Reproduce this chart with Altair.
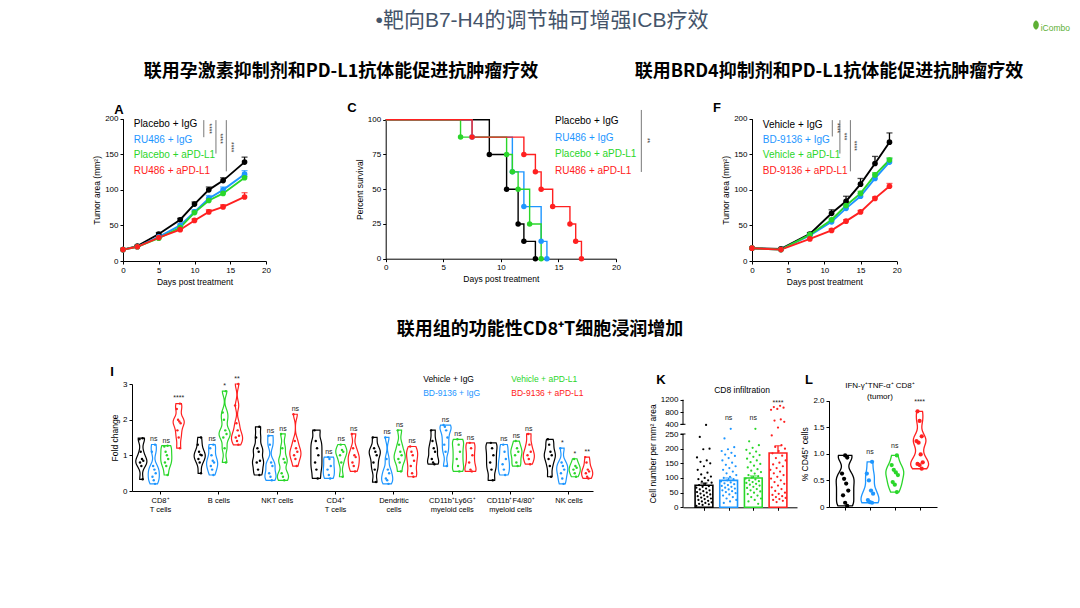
import json
import altair as alt
import pandas as pd

W, H = 1064, 592
FONT = "Liberation Sans"
CJK = "Noto Sans CJK SC"
MIX = "Liberation Sans, Noto Sans CJK SC"
COLORS = ["#000000", "#1E96FF", "#2AD62A", "#FF2020"]

# ---------------- text ----------------
MAIN_TITLE = "•靶向B7-H4的调节轴可增强ICB疗效"
SUB1 = "联用孕激素抑制剂和PD-L1抗体能促进抗肿瘤疗效"
SUB2 = "联用BRD4抑制剂和PD-L1抗体能促进抗肿瘤疗效"
SUB3 = "联用组的功能性CD8⁺T细胞浸润增加"

# ---------------- panel A ----------------
A_GROUPS = ["Placebo + IgG", "RU486 + IgG", "Placebo + aPD-L1", "RU486 + aPD-L1"]
A_DAYS = [0, 2, 5, 8, 10, 12, 14, 17]
A_BLACK = [16, 21, 38, 58, 80, 100, 113, 139]
A_BLUE = [16, 20, 34, 50, 69, 88, 100, 122]
A_GREEN = [16, 20, 32, 47, 68, 85, 95, 117]
A_RED = [16, 20, 33, 44, 57, 69, 76, 90]
A_ERR_BLACK = [1, 1, 2, 2, 3, 4, 4, 7]
A_ERR_BLUE = [1, 1, 2, 2, 3, 4, 4, 5]
A_ERR_GREEN = [1, 1, 1, 2, 2, 2, 2, 2]
A_ERR_RED = [1, 1, 1, 2, 2, 3, 3, 6]
A_LEG_Y = [192, 170, 149, 127]
A_BR_X = [11.3, 13.0, 14.45]
A_BR_LOW = [174, 151, 126]
A_STAR_X = [12.0, 13.6, 15.1]
A_STAR_Y = [186, 172, 160]
A_STARS = ["****", "****", "****"]

# ---------------- panel C ----------------
C_T_BLACK = [0, 9, 10.5, 11.5, 12, 13]
C_S_BLACK = [100, 75, 50, 25, 12.5, 0]
C_T_BLUE = [0, 7.5, 11, 12, 13.5, 14]
C_S_BLUE = [100, 87.5, 62.5, 37.5, 12.5, 0]
C_T_GREEN = [0, 6.5, 10.5, 11, 11.5, 12.5, 13.5]
C_S_GREEN = [100, 87.5, 75, 62.5, 50, 25, 0]
C_T_RED = [0, 7.5, 12, 13, 13.5, 14.5, 16, 16.5, 17]
C_S_RED = [100, 87.5, 75, 62.5, 50, 37.5, 25, 12.5, 0]
C_LEG_Y = [99, 87, 75, 63]

# ---------------- panel F ----------------
F_GROUPS = ["Vehicle + IgG", "BD-9136 + IgG", "Vehicle + aPD-L1", "BD-9136 + aPD-L1"]
F_DAYS = [0, 4, 8, 11, 13, 15, 17, 19]
F_BLACK = [18, 17, 38, 67, 84, 108, 137, 167]
F_BLUE = [18, 16, 36, 55, 74, 91, 116, 139]
F_GREEN = [18, 16, 37, 58, 78, 95, 121, 142]
F_RED = [18, 16, 31, 43, 56, 69, 88, 105]
F_ERR_BLACK = [1, 1, 2, 5, 7, 8, 10, 13]
F_ERR_BLUE = [1, 1, 2, 3, 3, 4, 5, 5]
F_ERR_GREEN = [1, 1, 2, 2, 3, 3, 3, 3]
F_ERR_RED = [1, 1, 1, 2, 2, 2, 2, 4]
F_LEG_Y = [191, 170, 149, 127]
F_BR_X = [11.1, 12.15, 13.6]
F_BR_LOW = [175, 151, 126]
F_STAR_X = [11.7, 12.7, 14.1]
F_STAR_Y = [187, 175, 162]
F_STARS = ["****", "***", "****"]

# ---------------- panel I ----------------
I_LABELS = [["CD8⁺", "T cells"], ["B cells"], ["NKT cells"], ["CD4⁺", "T cells"],
            ["Dendritic", "cells"], ["CD11b⁺Ly6G⁺", "myeloid cells"],
            ["CD11b⁺F4/80⁺", "myeloid cells"], ["NK cells"]]
I_BLACK = [[0.33, 0.7, 0.8, 0.85, 0.9, 1.1, 1.45, 1.48],
           [0.5, 0.8, 0.9, 1.0, 1.02, 1.1, 1.3, 1.5],
           [0.45, 0.6, 0.8, 0.85, 1.1, 1.2, 1.5, 1.8],
           [0.35, 0.6, 0.8, 1.0, 1.2, 1.4, 1.7],
           [0.25, 0.6, 0.8, 1.0, 1.1, 1.2, 1.5],
           [0.75, 0.8, 0.9, 1.1, 1.2, 1.4, 1.7],
           [0.3, 0.6, 0.8, 1.0, 1.2, 1.35],
           [0.4, 0.7, 0.9, 1.0, 1.1, 1.3, 1.45]]
I_BLUE = [[0.2, 0.3, 0.4, 0.5, 0.6, 0.7, 1.1, 1.3],
          [0.45, 0.6, 0.7, 0.8, 0.85, 1.0, 1.2, 1.3],
          [0.3, 0.4, 0.5, 0.7, 0.8, 1.3, 1.55],
          [0.35, 0.45, 0.6, 0.7, 0.9, 0.95],
          [0.2, 0.3, 0.35, 0.5, 0.6, 0.9, 1.5],
          [0.7, 1.1, 1.3, 1.5, 1.7, 1.8, 1.85],
          [0.45, 0.6, 0.75, 0.9, 1.1, 1.3],
          [0.2, 0.35, 0.5, 0.6, 0.7, 0.8, 1.2]]
I_GREEN = [[0.45, 0.7, 0.8, 0.9, 1.0, 1.1, 1.25, 1.27],
           [0.8, 1.2, 1.5, 1.6, 1.7, 2.0, 2.2, 2.8],
           [0.3, 0.4, 0.5, 0.8, 0.9, 1.2, 1.6],
           [0.4, 0.8, 1.0, 1.1, 1.15, 1.3],
           [0.55, 0.8, 0.9, 1.0, 1.1, 1.3, 1.7],
           [0.55, 0.7, 0.9, 1.1, 1.3, 1.45],
           [0.7, 0.8, 1.0, 1.1, 1.2, 1.4],
           [0.4, 0.5, 0.6, 0.65, 0.7, 0.9]]
I_RED = [[1.2, 1.5, 1.7, 1.9, 1.95, 2.0, 2.3, 2.45],
         [1.3, 1.4, 1.5, 1.55, 1.7, 1.9, 2.4, 3.0],
         [0.7, 0.9, 1.0, 1.1, 1.2, 1.4, 2.15],
         [0.55, 0.7, 0.8, 0.95, 1.0, 1.2, 1.6],
         [0.4, 0.5, 0.7, 0.85, 1.0, 1.1, 1.25],
         [0.55, 0.6, 0.8, 1.0, 1.2, 1.35],
         [0.75, 0.9, 1.0, 1.1, 1.3, 1.6],
         [0.35, 0.4, 0.5, 0.55, 0.6, 0.8, 0.95]]
I_SIG_BLUE = ["ns", "ns", "ns", "ns", "ns", "ns", "ns", "*"]
I_SIG_GREEN = ["ns", "*", "ns", "ns", "ns", "ns", "ns", "*"]
I_SIG_RED = ["****", "**", "ns", "ns", "ns", "ns", "ns", "**"]
I_OFFSETS = [-0.32, -0.107, 0.107, 0.32]
I_LEG_X = [4.51, 4.51, 6.02, 6.02]
I_LEG_Y = [3.14, 2.75, 3.14, 2.75]

# ---------------- panel K ----------------
K_MEAN = [75, 92, 100, 185]
K_SEM = [8, 8, 7, 25]
K_SIG = ["", "ns", "ns", "****"]
K_SIG_Y = [0, 600, 600, 1100]
K_BLACK = [390, 240, 200, 198, 170, 160, 155, 150, 140, 128, 118, 112, 105, 100, 96, 92, 88,
           84, 80, 76, 72, 70, 67, 64, 61, 58, 55, 52, 50, 47, 44, 41, 38, 36, 33, 30, 28, 25,
           22, 20, 17, 15, 12, 10, 8, 5]
K_BLUE = [330, 235, 205, 198, 192, 186, 180, 175, 168, 160, 152, 145, 140, 134, 128, 122, 116,
          110, 104, 100, 96, 92, 88, 85, 82, 79, 76, 73, 70, 67, 64, 61, 58, 55, 52, 48, 44, 40,
          35, 30, 25, 20, 15]
K_GREEN = [330, 225, 212, 203, 196, 190, 184, 178, 172, 166, 160, 154, 148, 142, 136, 130, 125,
           120, 115, 110, 106, 102, 98, 95, 92, 89, 86, 83, 80, 77, 74, 70, 66, 62, 58, 54, 50,
           45, 40, 35, 30, 25, 20, 12]
K_RED = [1000, 960, 940, 900, 870, 560, 520, 480, 350, 245, 212, 206, 200, 192, 184, 176, 168,
         160, 152, 146, 140, 134, 128, 122, 116, 110, 104, 98, 92, 86, 80, 74, 68, 62, 56, 50, 46,
         42, 38, 35, 32, 28, 25, 22, 18]

# ---------------- panel L ----------------
L_BLACK = [0.02, 0.08, 0.22, 0.31, 0.44, 0.53, 0.63, 0.93, 0.97]
L_BLUE = [0.08, 0.09, 0.13, 0.25, 0.31, 0.5, 0.63, 0.85]
L_GREEN = [0.28, 0.42, 0.47, 0.6, 0.65, 0.7, 0.79, 0.97]
L_RED = [0.72, 0.79, 0.81, 0.84, 0.99, 1.21, 1.24, 1.33, 1.62, 1.8]
L_SIG = ["", "ns", "ns", "****"]

K_GROUPS = F_GROUPS


# =============== helpers ===============
def lscale(domain, rng):
    return alt.Scale(domain=domain, range=rng, nice=False, zero=False)


def axis(orient, offset, values, title, **kw):
    return alt.Axis(orient=orient, offset=offset, values=values, title=title, grid=False,
                    labelFlush=False, labelOverlap=False, **kw)


def cscale(groups):
    return alt.Scale(domain=groups, range=COLORS)


def growth_panel(groups, days, means, errs, xr, yr, xoff, yoff, leg_y, br_x, br_low,
                 st_x, st_y, st_lab):
    rows = []
    for g, m, e in zip(groups, means, errs):
        for d, mm, ee in zip(days, m, e):
            rows.append(dict(grp=g, day=d, mean=mm, err=ee))
    df = pd.DataFrame(rows)
    xs = lscale([0, 20], xr)
    ys = lscale([0, 200], yr)
    xa = axis("bottom", xoff, [0, 5, 10, 15, 20], "Days post treatment")
    ya = axis("left", yoff, [0, 50, 100, 150, 200], "Tumor area (mm²)")

    def X(f):
        return alt.X(f + ":Q", scale=xs, axis=xa)

    def Y(f):
        return alt.Y(f + ":Q", scale=ys, axis=ya)

    col = alt.Color("grp:N", scale=cscale(groups), legend=None)
    base = alt.Chart(df).transform_calculate(hi="datum.mean + datum.err")
    err = base.mark_rule(strokeWidth=1.3).encode(x=X("day"), y=Y("mean"), y2=alt.Y2("hi"), color=col)
    cap = base.mark_tick(orient="horizontal", size=6, thickness=1.3).encode(
        x=X("day"), y=Y("hi"), color=col)
    line = base.mark_line(strokeWidth=1.9).encode(x=X("day"), y=Y("mean"), color=col)
    pts = base.mark_circle(size=32, opacity=1).encode(x=X("day"), y=Y("mean"), color=col)

    leg_df = pd.DataFrame(dict(grp=groups, y=leg_y, x=[1.5] * 4))
    leg = alt.Chart(leg_df).mark_text(align="left", baseline="middle", fontSize=10, font=FONT).encode(
        x=X("x"), y=Y("y"), text="grp:N", color=col)

    br_df = pd.DataFrame(dict(x=br_x, lo=br_low, hi=[198] * len(br_x)))
    br = alt.Chart(br_df).mark_rule(color="#555555", strokeWidth=0.8).encode(
        x=X("x"), y=Y("lo"), y2=alt.Y2("hi"))
    st_df = pd.DataFrame(dict(x=st_x, y=st_y, t=st_lab))
    st = alt.Chart(st_df).mark_text(angle=90, fontSize=6.5, font=FONT, color="#333333").encode(
        x=X("x"), y=Y("y"), text="t:N")
    return alt.layer(err, cap, line, pts, leg, br, st)


def violin_panel(groups, values, positions, xs, ys, xa, ya, halfw, bw, extent, psize, sw,
                 sig_rows, sig_pad, sig_size):
    rows = []
    for g, vl, p in zip(groups, values, positions):
        for v in vl:
            rows.append(dict(grp=g, pos=p, value=v))
    df = pd.DataFrame(rows)

    def X(f):
        return alt.X(f + ":Q", scale=xs, axis=xa)

    def Y(f):
        return alt.Y(f + ":Q", scale=ys, axis=ya)

    stroke = alt.Stroke("grp:N", scale=cscale(K_GROUPS), legend=None)
    col = alt.Color("grp:N", scale=cscale(K_GROUPS), legend=None)
    area = (
        alt.Chart(df)
        .transform_joinaggregate(vmin="min(value)", vmax="max(value)", groupby=["pos", "grp"])
        .transform_density("value", as_=["value", "density"], groupby=["pos", "grp", "vmin", "vmax"],
                           bandwidth=bw, extent=extent, steps=400)
        .transform_filter("datum.value >= datum.vmin - 0.004 && datum.value <= datum.vmax + 0.004")
        .transform_joinaggregate(dmax="max(density)", groupby=["pos", "grp"])
        .transform_calculate(xl=f"datum.pos - {halfw} * datum.density / datum.dmax",
                             xr=f"datum.pos + {halfw} * datum.density / datum.dmax")
        .mark_area(orient="horizontal", fill="white", strokeWidth=sw, interpolate="monotone")
        .encode(y=Y("value"), x=X("xl"), x2=alt.X2("xr"), stroke=stroke, detail="pos:Q")
    )
    pts = (
        alt.Chart(df)
        .transform_window(rn="row_number()", groupby=["pos"])
        .transform_calculate(px=f"datum.pos + ((datum.rn * 5) % 7 / 6 - 0.5) * {halfw * 0.7}")
        .mark_circle(size=psize, opacity=1)
        .encode(x=X("px"), y=Y("value"), color=col)
    )
    sig_df = pd.DataFrame(sig_rows)
    sig = alt.Chart(sig_df).transform_calculate(ty=f"datum.top + {sig_pad}").mark_text(
        baseline="bottom", fontSize=sig_size, font=FONT, color="#222222").encode(
        x=X("pos"), y=Y("ty"), text="t:N")
    return alt.layer(area, pts, sig), X, Y


def text_at(t, x, y, **kw):
    return alt.Chart(pd.DataFrame({"t": [t]})).mark_text(**kw).encode(
        text="t:N", x=alt.value(x), y=alt.value(y))


# =============== panel A ===============
panel_a = growth_panel(A_GROUPS, A_DAYS, [A_BLACK, A_BLUE, A_GREEN, A_RED],
                       [A_ERR_BLACK, A_ERR_BLUE, A_ERR_GREEN, A_ERR_RED],
                       [115, 258], [253, 110.7], 253 - H, -115, A_LEG_Y,
                       A_BR_X, A_BR_LOW, A_STAR_X, A_STAR_Y, A_STARS)

# =============== panel F ===============
panel_f = growth_panel(F_GROUPS, F_DAYS, [F_BLACK, F_BLUE, F_GREEN, F_RED],
                       [F_ERR_BLACK, F_ERR_BLUE, F_ERR_GREEN, F_ERR_RED],
                       [744, 888.7], [253, 110.7], 253 - H, -744, F_LEG_Y,
                       F_BR_X, F_BR_LOW, F_STAR_X, F_STAR_Y, F_STARS)

# =============== panel C ===============
km_rows = []
for g, ts, ss in zip(A_GROUPS, [C_T_BLACK, C_T_BLUE, C_T_GREEN, C_T_RED],
                     [C_S_BLACK, C_S_BLUE, C_S_GREEN, C_S_RED]):
    for t, s in zip(ts, ss):
        km_rows.append(dict(grp=g, t=t, s=s))
km_df = pd.DataFrame(km_rows)
c_xs = lscale([0, 20], [377.7, 608])
c_ys = lscale([0, 100], [250.7, 111.7])
c_xa = axis("bottom", 250.7 - H, [0, 5, 10, 15, 20], "Days post treatment")
c_ya = axis("left", -377.7, [0, 25, 50, 75, 100], "Percent survival")


def CX(f):
    return alt.X(f + ":Q", scale=c_xs, axis=c_xa)


def CY(f):
    return alt.Y(f + ":Q", scale=c_ys, axis=c_ya)


c_col = alt.Color("grp:N", scale=cscale(A_GROUPS), legend=None)
c_line = alt.Chart(km_df).mark_line(interpolate="step-after", strokeWidth=1.4).encode(
    x=CX("t"), y=CY("s"), color=c_col)
c_pts = alt.Chart(km_df).transform_filter("datum.t > 0").mark_circle(size=30, opacity=1).encode(
    x=CX("t"), y=CY("s"), color=c_col)
c_leg = alt.Chart(pd.DataFrame(dict(grp=A_GROUPS, y=C_LEG_Y, x=[14.7] * 4))).mark_text(
    align="left", baseline="middle", fontSize=10, font=FONT).encode(
    x=CX("x"), y=CY("y"), text="grp:N", color=c_col)
c_br = alt.Chart(pd.DataFrame(dict(x=[22.2], lo=[62.4], hi=[107]))).mark_rule(
    color="#555555", strokeWidth=0.8).encode(x=CX("x"), y=CY("lo"), y2=alt.Y2("hi"))
c_st = alt.Chart(pd.DataFrame(dict(x=[22.7], y=[85], t=["**"]))).mark_text(
    angle=90, fontSize=6.5, font=FONT, color="#333333").encode(x=CX("x"), y=CY("y"), text="t:N")
panel_c = alt.layer(c_line, c_pts, c_leg, c_br, c_st)

# =============== panel I ===============
i_xs = lscale([-0.48, 7.42], [124, 585])
i_ys = lscale([0, 3], [483, 376])
i_xa = axis("bottom", 483 - H, list(range(8)), "",
            labelExpr=json.dumps(I_LABELS, ensure_ascii=False) + "[datum.value]",
            labelFontSize=7.5, labelLineHeight=9)
i_ya = axis("left", -124, [0, 1, 2, 3], "Fold change")
i_groups, i_values, i_pos, i_sig = [], [], [], []
for ci in range(8):
    for gi, src in enumerate([I_BLACK, I_BLUE, I_GREEN, I_RED]):
        i_groups.append(K_GROUPS[gi])
        i_values.append(src[ci])
        i_pos.append(ci + I_OFFSETS[gi])
    for gi, sig in zip([1, 2, 3], [I_SIG_BLUE, I_SIG_GREEN, I_SIG_RED]):
        src = [I_BLACK, I_BLUE, I_GREEN, I_RED][gi]
        i_sig.append(dict(pos=ci + I_OFFSETS[gi], top=max(src[ci]), t=sig[ci]))
i_violins, IX, IY = violin_panel(i_groups, i_values, i_pos, i_xs, i_ys, i_xa, i_ya,
                                 0.095, 0.13, [0, 3.2], 6, 1.2, i_sig, 0.06, 7)
i_col = alt.Color("grp:N", scale=cscale(K_GROUPS), legend=None)
i_leg = alt.Chart(pd.DataFrame(dict(grp=K_GROUPS, x=I_LEG_X, y=I_LEG_Y))).mark_text(
    align="left", baseline="middle", fontSize=8.5, font=FONT).encode(
    x=IX("x"), y=IY("y"), text="grp:N", color=i_col)
panel_i = alt.layer(i_violins, i_leg)

# =============== panel K ===============
k_xs = lscale([-0.85, 3.77], [675, 789])
k_ys = alt.Scale(domain=[0, 250, 400, 1200], range=[499.3, 426, 416.3, 391.7], nice=False, zero=False)
k_xa = axis("bottom", 499.3 - H, [0, 1, 2, 3], "", labels=False)
k_ya = axis("left", -675, [0, 50, 100, 150, 200, 250, 400, 800, 1200],
            "Cell number per mm² area", domain=False, format="d")


def KX(f):
    return alt.X(f + ":Q", scale=k_xs, axis=k_xa)


def KY(f):
    return alt.Y(f + ":Q", scale=k_ys, axis=k_ya)


k_rows = []
for gi, src in enumerate([K_BLACK, K_BLUE, K_GREEN, K_RED]):
    for v in src:
        k_rows.append(dict(grp=K_GROUPS[gi], pos=gi, value=v))
k_df = pd.DataFrame(k_rows)
k_bar_df = pd.DataFrame(dict(grp=K_GROUPS, pos=[0, 1, 2, 3], mean=K_MEAN, sem=K_SEM,
                             t=K_SIG, ty=K_SIG_Y))
k_col = alt.Color("grp:N", scale=cscale(K_GROUPS), legend=None)
k_stroke = alt.Stroke("grp:N", scale=cscale(K_GROUPS), legend=None)
k_base = alt.Chart(k_bar_df).transform_calculate(
    xl="datum.pos - 0.36", xr="datum.pos + 0.36", hi="datum.mean + datum.sem")
k_bars = k_base.mark_bar(fill="white", strokeWidth=1.6).encode(
    x=KX("xl"), x2=alt.X2("xr"), y=KY("mean"), y2=alt.datum(0), stroke=k_stroke)
k_pts = (alt.Chart(k_df)
         .transform_window(rn="row_number()", groupby=["grp"])
         .transform_calculate(px="datum.pos + ((datum.rn * 37) % 23 / 22 - 0.5) * 0.62")
         .mark_circle(size=5, opacity=1)
         .encode(x=KX("px"), y=KY("value"), color=k_col))
k_err = k_base.mark_rule(strokeWidth=1.3).encode(x=KX("pos"), y=KY("mean"), y2=alt.Y2("hi"), color=k_col)
k_cap = k_base.mark_tick(orient="horizontal", size=7, thickness=1.3).encode(
    x=KX("pos"), y=KY("hi"), color=k_col)
k_sig = k_base.mark_text(baseline="middle", fontSize=7, font=FONT, color="#222222").encode(
    x=KX("pos"), y=KY("ty"), text="t:N")
k_axis_df = pd.DataFrame(dict(x=[-0.85, -0.85], lo=[0, 400], hi=[250, 1200]))
k_axis = alt.Chart(k_axis_df).mark_rule(color="black", strokeWidth=1).encode(
    x=KX("x"), y=KY("lo"), y2=alt.Y2("hi"))
k_brk_df = pd.DataFrame(dict(x1=[-0.95, -0.95], x2=[-0.75, -0.75], y=[250, 400]))
k_brk = alt.Chart(k_brk_df).mark_rule(color="black", strokeWidth=1).encode(
    x=KX("x1"), x2=alt.X2("x2"), y=KY("y"))
panel_k = alt.layer(k_bars, k_pts, k_err, k_cap, k_sig, k_axis, k_brk)

# =============== panel L ===============
l_xs = lscale([-0.65, 3.7], [821, 929])
l_ys = lscale([0, 2], [499, 392.7])
l_xa = axis("bottom", 499 - H, [0, 1, 2, 3], "", labels=False)
l_ya = axis("left", -821, [0, 0.5, 1, 1.5, 2], "% CD45⁺ cells",
            labelExpr="datum.value == 0 ? '0' : format(datum.value, '.1f')")
l_vals = [L_BLACK, L_BLUE, L_GREEN, L_RED]
l_sig = [dict(pos=i, top=max(v), t=s) for i, (v, s) in enumerate(zip(l_vals, L_SIG))]
panel_l, LX, LY = violin_panel(K_GROUPS, l_vals, [0, 1, 2, 3], l_xs, l_ys, l_xa, l_ya,
                               0.36, 0.11, [0, 2], 18, 1.3, l_sig, 0.12, 7)

# =============== headers, letters, logo ===============
headers = [
    text_at(MAIN_TITLE, 534, 19, font=MIX, fontSize=21, color="#44546A", baseline="alphabetic",
            align="center"),
    text_at(SUB1, 333, 64, font=CJK, fontSize=18, fontWeight="bold", color="#000000",
            baseline="middle", align="center"),
    text_at(SUB2, 821, 64, font=CJK, fontSize=18, fontWeight="bold", color="#000000",
            baseline="middle", align="center"),
    text_at(SUB3, 532, 322, font=CJK, fontSize=18, fontWeight="bold", color="#000000",
            baseline="middle", align="center"),
    text_at("iCombo", 1062, 20, font=FONT, fontSize=8.5, color="#5DAF34", baseline="middle",
            align="right"),
    text_at("CD8 infiltration", 734, 382, font=FONT, fontSize=8.5, color="#000000",
            baseline="middle", align="center"),
    text_at("IFN-γ⁺TNF-α⁺ CD8⁺", 872, 377.7, font=FONT, fontSize=8, color="#000000",
            baseline="middle", align="center"),
    text_at("(tumor)", 872, 388.7, font=FONT, fontSize=8, color="#000000",
            baseline="middle", align="center"),
]
for letter, lx, ly in [("A", 111, 102), ("C", 344, 100), ("F", 709, 100),
                       ("I", 104, 364), ("K", 653, 372), ("L", 801, 372)]:
    headers.append(text_at(letter, lx, ly, font=FONT, fontSize=13, fontWeight="bold",
                           color="#000000", baseline="middle", align="center"))
leaf = alt.Chart(pd.DataFrame({"k": [0]})).mark_point(
    shape="M0,-1 C0.9,-0.5 0.7,0.7 0,1 C-0.7,0.7 -0.9,-0.5 0,-1 Z", filled=True,
    color="#5DAF34", size=90, opacity=1).encode(x=alt.value(1028), y=alt.value(17))

chart = (
    alt.layer(*headers, leaf, panel_a, panel_c, panel_f, panel_i, panel_k, panel_l)
    .resolve_scale(x="independent", y="independent", color="independent", stroke="independent")
    .resolve_axis(x="independent", y="independent")
    .properties(width=W, height=H, padding=0, autosize=alt.AutoSizeParams(type="none"),
                background="white")
    .configure_view(strokeWidth=0)
    .configure_axis(labelFont=FONT, titleFont=FONT, labelFontSize=8, titleFontSize=8.5,
                    titleFontWeight="normal", labelColor="#000000", titleColor="#000000",
                    domainColor="#000000", tickColor="#000000", tickSize=3, labelPadding=2,
                    titlePadding=3, domainWidth=1, tickWidth=1)
)

chart.save("out.html", embed_options={"renderer": "svg", "actions": False})
